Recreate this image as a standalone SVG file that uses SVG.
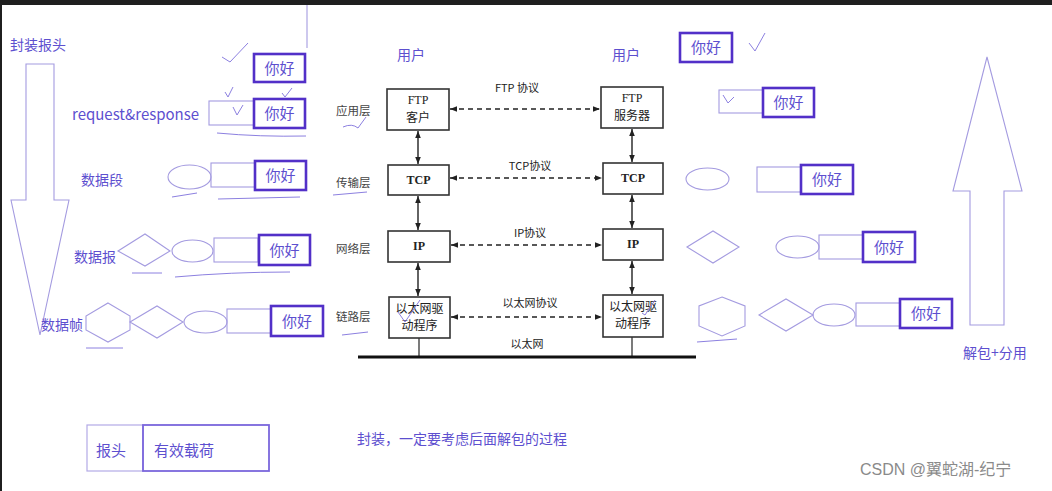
<svg xmlns="http://www.w3.org/2000/svg" width="1052" height="491" viewBox="0 0 1052 491">
<style>
.pt{font-family:"Noto Sans CJK SC","Noto Sans",sans-serif;fill:#5d4fcf}
.lb{font-family:"Noto Sans CJK SC",serif;fill:#444;font-size:11.5px}
.bx{fill:#fff;stroke:#333;stroke-width:1.6}
.bt{font-family:"Liberation Serif","Noto Sans CJK SC",serif;fill:#222;font-size:12px;text-anchor:middle}
.bold{fill:#fff;stroke:#5230c8;stroke-width:2.6}
.thin{fill:none;stroke:#a49be0;stroke-width:1.1}
.hw{font-family:"Noto Sans CJK SC",sans-serif;fill:#5d4fcf;font-size:15px;text-anchor:middle}
.ck{fill:none;stroke:#8c80e0;stroke-width:1}
.da{stroke:#222;stroke-width:1.4;stroke-dasharray:5,4;marker-start:url(#as);marker-end:url(#ae)}
.va{stroke:#222;stroke-width:1.4;marker-start:url(#as);marker-end:url(#ae)}
.ct{font-family:"Noto Sans CJK SC",sans-serif;fill:#222;font-size:11px;text-anchor:middle}
</style>
<defs>
<marker id="ae" viewBox="0 0 10 10" refX="10" refY="5" markerWidth="7" markerHeight="7" markerUnits="userSpaceOnUse" orient="auto"><path d="M0,1 L10,5 L0,9 z" fill="#222"/></marker>
<marker id="as" viewBox="0 0 10 10" refX="0" refY="5" markerWidth="7" markerHeight="7" markerUnits="userSpaceOnUse" orient="auto"><path d="M10,1 L0,5 L10,9 z" fill="#222"/></marker>
</defs>
<rect width="1052" height="491" fill="#fff"/>
<rect width="1052" height="5" fill="#1f1f1f"/>
<rect width="2" height="491" fill="#1f1f1f"/>

<!-- left big arrow -->
<g id="down-arrow">
<path class="thin" d="M26,64 L54,64 L54,200 L69,200 L40,335 L11,200 L26,200 Z"/>
<text class="pt" x="10" y="50" font-size="14">封装报头</text>
</g>
<line x1="307" y1="5" x2="307" y2="48" stroke="#a49be0" stroke-width="1.1"/>

<!-- left packets -->
<g id="left-top">
<path class="ck" d="M222,57 L230,62 L248,43"/>
<rect class="bold" x="254" y="54" width="51" height="28"/>
<text class="hw" x="279.500" y="74">你好</text>
<path class="ck" d="M225,92 L228,97 L233,87"/>
<path class="ck" d="M282,93 L285,97 L292,88"/>
</g>
<g id="left-row1">
<text class="pt" x="72" y="120" font-size="15">request&amp;response</text>
<rect class="thin" x="209" y="101" width="45" height="24"/>
<path class="ck" d="M233,107 L237,115 L243,105"/>
<rect class="bold" x="254" y="99" width="51" height="29"/>
<text class="hw" x="279.500" y="119">你好</text>
<path class="ck" d="M217,133 Q260,137 306,136"/>
</g>
<g id="left-row2">
<text class="pt" x="81" y="185" font-size="14">数据段</text>
<ellipse class="thin" cx="189.500" cy="177" rx="21.500" ry="12"/>
<rect class="thin" x="211" y="163" width="44" height="24"/>
<rect class="bold" x="255" y="161" width="51" height="29"/>
<text class="hw" x="280.500" y="181">你好</text>
<path class="ck" d="M172,197 L197,193"/>
<path class="ck" d="M218,199 L300,197"/>
</g>
<g id="left-row3">
<text class="pt" x="74" y="262" font-size="14">数据报</text>
<path class="thin" d="M118,251 L145,234 L170,251 L145,266 Z"/>
<ellipse class="thin" cx="192.500" cy="251" rx="20.500" ry="11"/>
<rect class="thin" x="214" y="238" width="44" height="24"/>
<rect class="bold" x="259" y="235" width="51" height="30"/>
<text class="hw" x="284.500" y="256">你好</text>
<path class="ck" d="M132,273 L162,273"/>
<path class="ck" d="M175,277 Q230,272 290,272"/>
</g>
<g id="left-row4">
<path class="thin" d="M108,303 L130,316 L130,330 L108,342 L86,330 L86,316 Z"/>
<text class="pt" x="41" y="330" font-size="14">数据帧</text>
<path class="thin" d="M130,322 L157,306 L183,322 L157,338 Z"/>
<ellipse class="thin" cx="205.500" cy="322" rx="21.500" ry="11"/>
<rect class="thin" x="227" y="309" width="44" height="24"/>
<rect class="bold" x="271" y="306" width="52" height="30"/>
<text class="hw" x="297" y="327">你好</text>
<path class="ck" d="M86,348 L123,348"/>
</g>

<!-- protocol stack -->
<g id="users">
<text class="pt" x="397" y="60" font-size="14">用户</text>
<text class="pt" x="612" y="60" font-size="14">用户</text>
</g>
<g id="layer-labels">
<text class="lb" x="336" y="115">应用层</text>
<text class="lb" x="336" y="187">传输层</text>
<text class="lb" x="336" y="253">网络层</text>
<text class="lb" x="336" y="321">链路层</text>
<path class="ck" d="M343,127 Q352,123 358,128 L366,117"/>
<path class="ck" d="M333,195 L367,192"/>
<path class="ck" d="M342,335 L368,332"/>
</g>
<g id="ftp-client">
<rect class="bx" x="387" y="89" width="62" height="41"/>
<text class="bt" x="418" y="104">FTP</text>
<text class="bt" x="418" y="122">客户</text>
</g>
<g id="ftp-server">
<rect class="bx" x="601" y="87" width="62" height="41"/>
<text class="bt" x="632" y="102">FTP</text>
<text class="bt" x="632" y="120">服务器</text>
</g>
<g id="tcp-left">
<rect class="bx" x="388" y="165" width="61" height="30"/>
<text class="bt" x="418.500" y="184" font-weight="bold">TCP</text>
</g>
<g id="tcp-right">
<rect class="bx" x="603" y="163" width="60" height="31"/>
<text class="bt" x="633" y="182" font-weight="bold">TCP</text>
</g>
<g id="ip-left">
<rect class="bx" x="388" y="231" width="62" height="31"/>
<text class="bt" x="419" y="250" font-weight="bold">IP</text>
</g>
<g id="ip-right">
<rect class="bx" x="603" y="229" width="60" height="31"/>
<text class="bt" x="633" y="248" font-weight="bold">IP</text>
</g>
<g id="eth-left">
<rect class="bx" x="389" y="297" width="61" height="41"/>
<text class="bt" x="419.500" y="313">以太网驱</text>
<text class="bt" x="419.500" y="330">动程序</text>
<path class="ck" d="M398,312 L405,322 L420,300"/>
</g>
<g id="eth-right">
<rect class="bx" x="603" y="295" width="60" height="42"/>
<text class="bt" x="633" y="311">以太网驱</text>
<text class="bt" x="633" y="328">动程序</text>
<path class="ck" d="M642,313 L645,315 L655,300"/>
</g>
<g id="connectors">
<line class="da" x1="450" y1="109" x2="600" y2="109"/>
<line class="da" x1="450" y1="178" x2="602" y2="178"/>
<line class="da" x1="451" y1="245" x2="602" y2="245"/>
<line class="da" x1="451" y1="317" x2="602" y2="317"/>
<line class="va" x1="418" y1="131" x2="418" y2="164"/>
<line class="va" x1="632" y1="129" x2="632" y2="162"/>
<line class="va" x1="418" y1="196" x2="418" y2="230"/>
<line class="va" x1="632" y1="195" x2="632" y2="228"/>
<line class="va" x1="418" y1="263" x2="418" y2="296"/>
<line class="va" x1="632" y1="261" x2="632" y2="294"/>
<line x1="419" y1="338" x2="419" y2="357" stroke="#333" stroke-width="1.3"/>
<line x1="632" y1="337" x2="632" y2="357" stroke="#333" stroke-width="1.3"/>
<line x1="358" y1="357" x2="696" y2="357" stroke="#111" stroke-width="3"/>
</g>
<g id="protocol-labels">
<text class="ct" x="517" y="92">FTP 协议</text>
<text class="ct" x="530" y="170">TCP协议</text>
<text class="ct" x="530" y="237">IP协议</text>
<text class="ct" x="530" y="307">以太网协议</text>
<text class="ct" x="527" y="348">以太网</text>
</g>

<!-- right side -->
<g id="right-top">
<rect class="bold" x="680" y="33" width="52" height="29"/>
<text class="hw" x="706" y="53">你好</text>
<path class="ck" d="M749,43 L755,51 L765,33"/>
</g>
<g id="right-row1">
<rect class="thin" x="719" y="90" width="44" height="23"/>
<path class="ck" d="M723,95 L728,103 L734,97"/>
<rect class="bold" x="763" y="88" width="51" height="29"/>
<text class="hw" x="788.500" y="108">你好</text>
</g>
<g id="right-row2">
<ellipse class="thin" cx="707.500" cy="179" rx="21.500" ry="11"/>
<rect class="thin" x="757" y="167" width="44" height="25"/>
<rect class="bold" x="801" y="165" width="52" height="29"/>
<text class="hw" x="827" y="185">你好</text>
</g>
<g id="right-row3">
<path class="thin" d="M687,247 L713,231 L739,247 L713,263 Z"/>
<ellipse class="thin" cx="797.500" cy="247" rx="21.500" ry="11"/>
<rect class="thin" x="819" y="235" width="44" height="24"/>
<rect class="bold" x="863" y="232" width="52" height="30"/>
<text class="hw" x="889" y="253">你好</text>
</g>
<g id="right-row4">
<path class="thin" d="M722,297 L745,306 L745,326 L722,336 L699,326 L699,306 Z"/>
<path class="ck" d="M697,342 L737,339"/>
<path class="thin" d="M759,315 L786,299 L813,315 L786,331 Z"/>
<ellipse class="thin" cx="834" cy="315" rx="21" ry="11"/>
<rect class="thin" x="856" y="303" width="44" height="23"/>
<rect class="bold" x="900" y="299" width="52" height="29"/>
<text class="hw" x="926" y="319">你好</text>
</g>
<g id="up-arrow">
<path class="thin" d="M987,57 L1022,191 L1004,191 L1004,325 L970,325 L970,191 L953,191 Z"/>
<text class="pt" x="963" y="358" font-size="14">解包+分用</text>
</g>

<!-- bottom -->
<g id="legend">
<rect x="87" y="425" width="56" height="46" fill="none" stroke="#b3aae6" stroke-width="1.2"/>
<rect x="143" y="425" width="126" height="46" fill="none" stroke="#7a66dc" stroke-width="1.8"/>
<text class="pt" x="96" y="456" font-size="15">报头</text>
<text class="pt" x="154" y="456" font-size="15">有效载荷</text>
</g>
<text class="pt" x="357" y="444" font-size="14">封装，一定要考虑后面解包的过程</text>
<text x="860" y="475" font-family="'Liberation Sans','Noto Sans CJK SC',sans-serif" font-size="16" fill="#8a8a8a">CSDN @翼蛇湖-纪宁</text>
</svg>
